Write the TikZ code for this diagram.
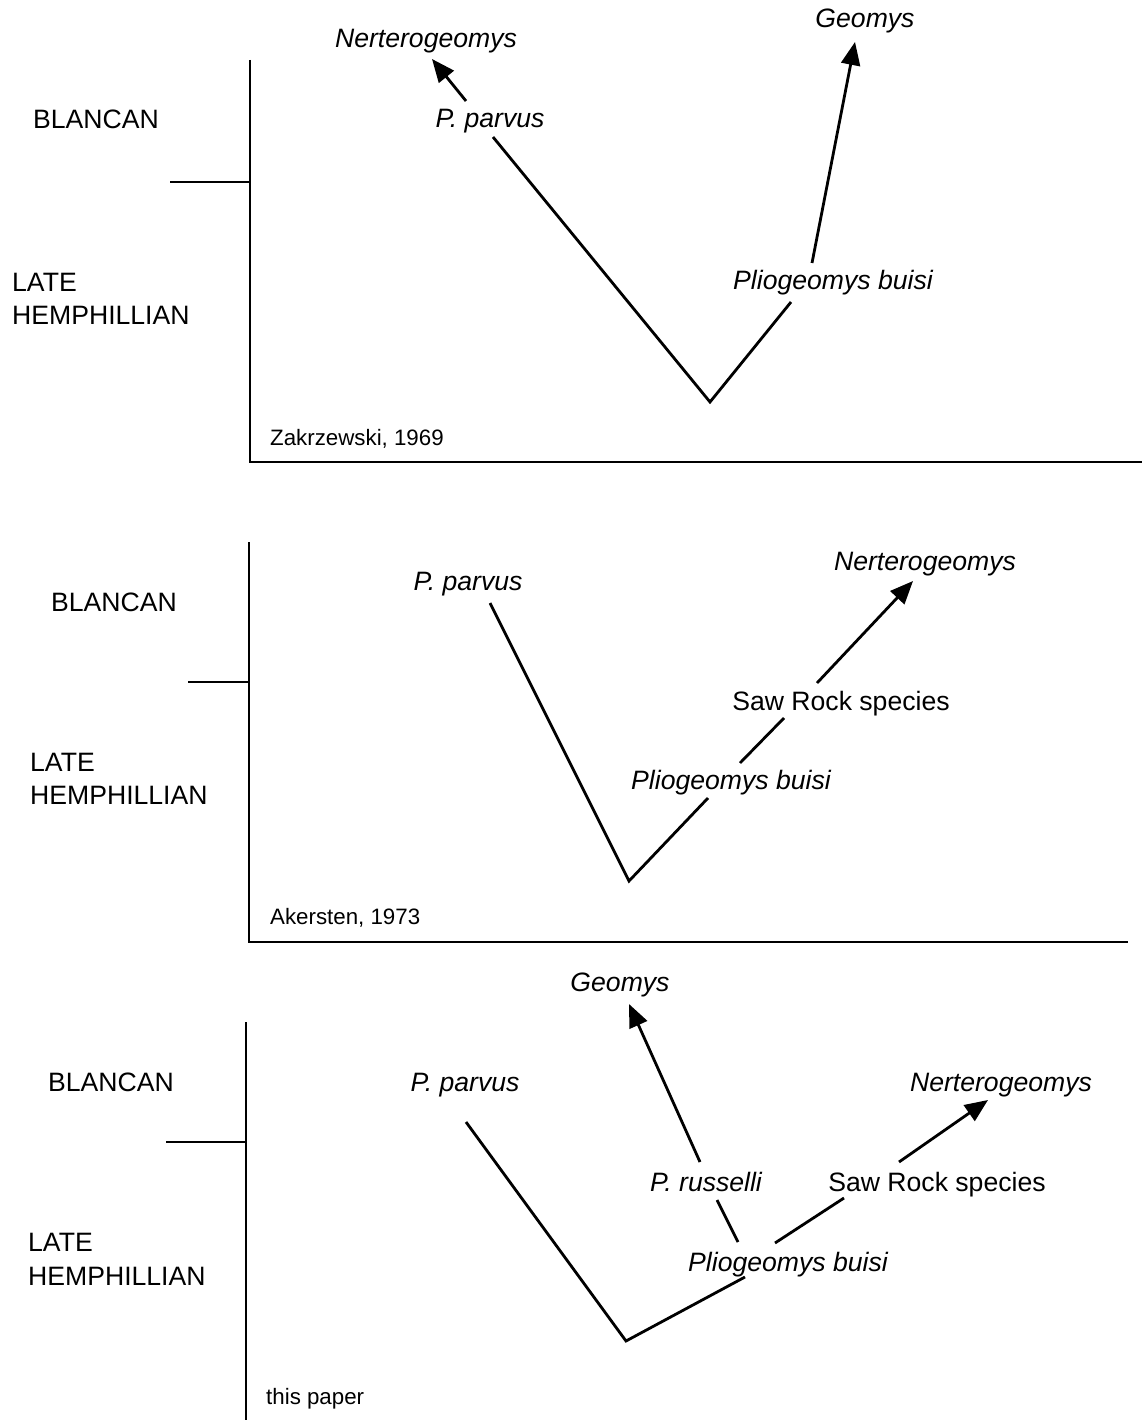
\documentclass[tikz,border=0pt]{standalone}
\usepackage{fontspec}
\setmainfont{Liberation Sans}
\usetikzlibrary{arrows.meta}
\begin{document}
\begin{tikzpicture}[x=1pt,y=-1pt,
  lbl/.style={inner sep=0pt,anchor=base,font=\fontsize{26.6}{30}\selectfont},
  taxon/.style={lbl,font=\fontsize{26.6}{30}\selectfont\itshape},
  era/.style={lbl,anchor=base west},
  cite/.style={inner sep=0pt,anchor=base west,font=\fontsize{22.3}{26}\selectfont},
  axis/.style={line width=2.3pt},
  branch/.style={line width=2.8pt},
  evo/.style={branch,-{Triangle[length=23pt,width=19pt]}}]
\useasboundingbox (0,0) rectangle (1142,1420);

% ---------- panel 1 ----------
\coordinate (a1t) at (250,60);
\coordinate (a1b) at (250,462);
\coordinate (a1r) at (1142,462);
\coordinate (k1l) at (170,182);
\coordinate (k1r) at (250,182);
\draw[axis] (a1t) -- (a1b) -- (a1r);
\draw[axis] (k1l) -- (k1r);
\node[era] (bl1) at (33,129) {BLANCAN};
\node[era] (lt1) at (12,291) {LATE};
\node[era] (hm1) at (12,324) {HEMPHILLIAN};
\node[taxon] (ne1) at (426,48) {Nerterogeomys};
\node[taxon] (pp1) at (490,128) {P. parvus};
\node[taxon] (ge1) at (865,28) {Geomys};
\node[taxon] (pb1) at (833,290) {Pliogeomys buisi};
\node[cite] (ct1) at (270,445) {Zakrzewski, 1969};
\coordinate (p1s) at (466,101);
\coordinate (p1e) at (432,59);
\coordinate (v1a) at (493,137);
\coordinate (v1) at (710,402);
\coordinate (v1b) at (791,302);
\coordinate (g1s) at (812,263);
\coordinate (g1e) at (855,42);
\draw[evo] (p1s) -- (p1e);
\draw[branch] (v1a) -- (v1) -- (v1b);
\draw[evo] (g1s) -- (g1e);

% ---------- panel 2 ----------
\coordinate (a2t) at (249,542);
\coordinate (a2b) at (249,942);
\coordinate (a2r) at (1128,942);
\coordinate (k2l) at (188,682);
\coordinate (k2r) at (249,682);
\draw[axis] (a2t) -- (a2b) -- (a2r);
\draw[axis] (k2l) -- (k2r);
\node[era] (bl2) at (51,611) {BLANCAN};
\node[era] (lt2) at (30,771) {LATE};
\node[era] (hm2) at (30,804) {HEMPHILLIAN};
\node[taxon] (pp2) at (468,590) {P. parvus};
\node[taxon] (ne2) at (925,570) {Nerterogeomys};
\node[lbl] (sr2) at (841,710) {Saw Rock species};
\node[taxon] (pb2) at (731,789) {Pliogeomys buisi};
\node[cite] (ct2) at (270,924) {Akersten, 1973};
\coordinate (v2a) at (490,603);
\coordinate (v2) at (629,881);
\coordinate (v2b) at (708,798);
\coordinate (s2a) at (740,763);
\coordinate (s2b) at (784,718);
\coordinate (n2s) at (817,683);
\coordinate (n2e) at (913,581);
\draw[branch] (v2a) -- (v2) -- (v2b);
\draw[branch] (s2a) -- (s2b);
\draw[evo] (n2s) -- (n2e);

% ---------- panel 3 ----------
\coordinate (a3t) at (246,1022);
\coordinate (a3b) at (246,1420);
\coordinate (k3l) at (166,1142);
\coordinate (k3r) at (246,1142);
\draw[axis] (a3t) -- (a3b);
\draw[axis] (k3l) -- (k3r);
\node[era] (bl3) at (48,1091) {BLANCAN};
\node[era] (lt3) at (28,1251) {LATE};
\node[era] (hm3) at (28,1285) {HEMPHILLIAN};
\node[taxon] (ge3) at (620,991) {Geomys};
\node[taxon] (pp3) at (465,1091) {P. parvus};
\node[taxon] (ne3) at (1001,1091) {Nerterogeomys};
\node[taxon] (pr3) at (706,1191) {P. russelli};
\node[lbl] (sr3) at (937,1191) {Saw Rock species};
\node[taxon] (pb3) at (788,1271) {Pliogeomys buisi};
\node[cite] (ct3) at (266,1404) {this paper};
\coordinate (v3a) at (466,1122);
\coordinate (v3) at (626,1341);
\coordinate (v3b) at (745,1277);
\coordinate (r3a) at (717,1200);
\coordinate (r3b) at (738,1242);
\coordinate (s3a) at (775,1243);
\coordinate (s3b) at (844,1198);
\coordinate (n3s) at (899,1162);
\coordinate (n3e) at (988,1100);
\coordinate (g3s) at (700,1162);
\coordinate (g3e) at (629,1004);
\draw[branch] (v3a) -- (v3) -- (v3b);
\draw[branch] (r3a) -- (r3b);
\draw[branch] (s3a) -- (s3b);
\draw[evo] (n3s) -- (n3e);
\draw[evo] (g3s) -- (g3e);
\end{tikzpicture}
\end{document}
